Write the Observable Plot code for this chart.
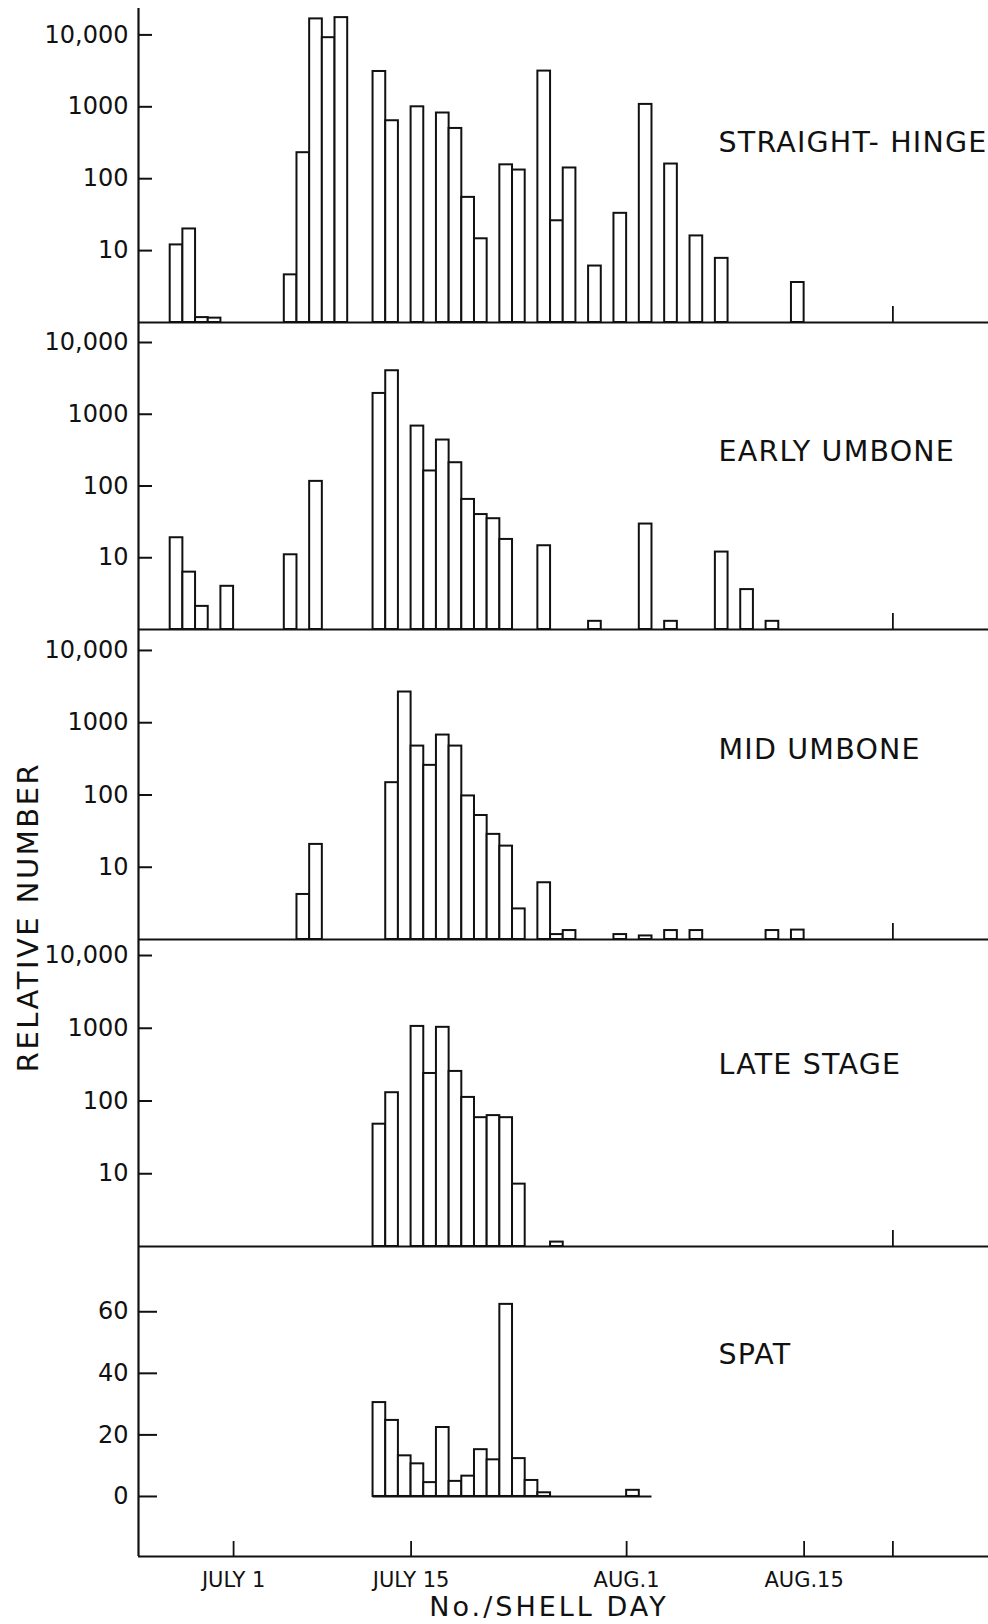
<!DOCTYPE html>
<html>
<head>
<meta charset="utf-8">
<script src="https://cdn.jsdelivr.net/npm/d3@7"></script>
<script src="https://cdn.jsdelivr.net/npm/@observablehq/plot@0.6"></script>
<style>
  body { margin: 0; background: #fff; }
  #chart { position: relative; width: 988px; height: 1624px; background: #fff; font-family: "DejaVu Sans", sans-serif; color: #111; overflow: hidden; }
  #chart svg { position: absolute; left: 0; overflow: visible; background: transparent; }
  .axis-title { position: absolute; white-space: nowrap; line-height: 1; color: #111; }
</style>
</head>
<body>
<div id="chart"></div>
<script>
// Year is not given in the figure; any year works since only month/day are shown.
const YEAR = 1950;

// ---- tick labels ----
const xTickDates = ["07-01", "07-15", "08-01", "08-15"];
const xTickLabels = ["JULY 1", "JULY 15", "AUG.1", "AUG.15"];
const minorTickDate = "08-22";
const logTicks = [10, 100, 1000, 10000];
const logTickLabels = ["10", "100", "1000", "10,000"];
const spatTicks = [0, 20, 40, 60];
const spatTickLabels = ["0", "20", "40", "60"];
const stageNames = ["STRAIGHT- HINGE", "EARLY UMBONE", "MID UMBONE", "LATE STAGE", "SPAT"];
const yAxisTitle = "RELATIVE NUMBER";
const xAxisTitle = "No./SHELL DAY";

// ---- series (relative number per day) ----
const straightHingeDates = ["06-26","06-27","06-28","06-29","07-05","07-06","07-07","07-08","07-09","07-12","07-13","07-15","07-17","07-18","07-19","07-20","07-22","07-23","07-25","07-26","07-27","07-29","07-31","08-02","08-04","08-06","08-08","08-14"];
const straightHingeValues = [12, 20, 1.17, 1.15, 4.6, 230, 16700, 9150, 17400, 3100, 640, 1000, 820, 500, 55, 14.6, 156, 132, 3140, 26, 141, 6.1, 33, 1080, 160, 16, 7.8, 3.6];

const earlyUmboneDates = ["06-26","06-27","06-28","06-30","07-05","07-07","07-12","07-13","07-15","07-16","07-17","07-18","07-19","07-20","07-21","07-22","07-25","07-29","08-02","08-04","08-08","08-10","08-12"];
const earlyUmboneValues = [19, 6.3, 2.1, 4, 11, 116, 1950, 4040, 684, 162, 437, 211, 65, 40, 35, 18, 14.7, 1.3, 29.5, 1.3, 12, 3.6, 1.3];

const midUmboneDates = ["07-06","07-07","07-13","07-14","07-15","07-16","07-17","07-18","07-19","07-20","07-21","07-22","07-23","07-25","07-26","07-27","07-31","08-02","08-04","08-06","08-12","08-14"];
const midUmboneValues = [4.2, 20.7, 148, 2660, 475, 257, 675, 475, 97, 52, 28.5, 19.6, 2.65, 6.1, 1.17, 1.33, 1.17, 1.12, 1.33, 1.33, 1.33, 1.35];

const lateStageDates = ["07-12","07-13","07-15","07-16","07-17","07-18","07-19","07-20","07-21","07-22","07-23","07-26"];
const lateStageValues = [48, 130, 1060, 239, 1030, 255, 112, 59, 63, 59, 7.2, 1.15];

const spatDates = ["07-12","07-13","07-14","07-15","07-16","07-17","07-18","07-19","07-20","07-21","07-22","07-23","07-24","07-25","08-01"];
const spatValues = [30.5, 24.7, 13.2, 10.6, 4.5, 22.4, 4.9, 6.6, 15.2, 11.9, 62.4, 12.3, 5.2, 1.2, 2];
const spatSamplingSpan = ["07-12", "08-03"];

// ---- helpers / layout ----
const day = s => new Date(Date.UTC(YEAR, +s.slice(0, 2) - 1, +s.slice(3, 5)));
const rowsOf = (dates, values) => dates.map((s, i) => ({date: day(s), value: values[i]}));
const INK = "#111";
const FONT = "'DejaVu Sans', sans-serif";
const W = 988, ML = 138, MR = 0;
const plotW = W - ML - MR;
const xDomain = [new Date(Date.UTC(YEAR, 5, 23, 12)), new Date(Date.UTC(YEAR, 7, 29, 13))];

const layout = [
  {top: 0,    mt: 8, mb: 2,  height: 324, yMax: 23300, titleDy: 134},
  {top: 320,  mt: 2, mb: 2,  height: 311, yMax: 19000, titleDy: 129},
  {top: 627,  mt: 2, mb: 2,  height: 314, yMax: 19500, titleDy: 120},
  {top: 937,  mt: 2, mb: 2,  height: 311, yMax: 16600, titleDy: 125},
  {top: 1244, mt: 2, mb: 68, height: 380, yMin: -19.5, yMax: 81.2, titleDy: 108}
];

const chart = document.getElementById("chart");

function titleMark(name, L) {
  return Plot.text([name], {text: d => d, frameAnchor: "top-left", dx: 580, dy: L.titleDy,
    textAnchor: "start", lineAnchor: "middle", fontSize: 28.5, fill: INK});
}

function spaceTitles(svg) {
  svg.querySelectorAll("text").forEach(t => {
    if (stageNames.includes(t.textContent)) t.setAttribute("letter-spacing", "1.2");
  });
}

function logPanel(name, dates, values, L) {
  const rows = rowsOf(dates, values);
  const areaH = L.height - L.mt - L.mb;
  const labelOf = new Map(logTicks.map((t, i) => [t, logTickLabels[i]]));
  const svg = Plot.plot({
    width: W, height: L.height, marginLeft: ML, marginRight: MR, marginTop: L.mt, marginBottom: L.mb,
    style: {fontFamily: FONT, fontSize: "24px", color: INK, background: "transparent", overflow: "visible"},
    x: {type: "utc", domain: xDomain, axis: null},
    y: {type: "log", domain: [1, L.yMax], ticks: logTicks, tickFormat: d => labelOf.get(d) ?? "", tickSize: 0, tickPadding: 10, label: null},
    marks: [
      Plot.rect(rows, {x1: "date", x2: d => d3.utcDay.offset(d.date, 1), y1: 1, y2: "value", fill: "white", stroke: INK, strokeWidth: 2}),
      Plot.ruleY([1], {stroke: INK, strokeWidth: 2}),
      Plot.ruleX([xDomain[0]], {stroke: INK, strokeWidth: 2.2}),
      Plot.ruleY(logTicks, {stroke: INK, strokeWidth: 2, insetRight: plotW - 14}),
      Plot.ruleX([day(minorTickDate)], {stroke: INK, strokeWidth: 1.8, insetTop: areaH - 16}),
      titleMark(name, L)
    ]
  });
  spaceTitles(svg);
  svg.style.top = L.top + "px";
  return svg;
}

function spatPanel(name, dates, values, L) {
  const rows = rowsOf(dates, values);
  const areaH = L.height - L.mt - L.mb;
  const labelOf = new Map(spatTicks.map((t, i) => [t, spatTickLabels[i]]));
  const xTicks = xTickDates.map((s, i) => ({date: day(s), label: xTickLabels[i]}));
  const svg = Plot.plot({
    width: W, height: L.height, marginLeft: ML, marginRight: MR, marginTop: L.mt, marginBottom: L.mb,
    style: {fontFamily: FONT, fontSize: "24px", color: INK, background: "transparent", overflow: "visible"},
    x: {type: "utc", domain: xDomain, axis: null},
    y: {domain: [L.yMin, L.yMax], ticks: spatTicks, tickFormat: d => labelOf.get(d) ?? "", tickSize: 0, tickPadding: 10, label: null},
    marks: [
      Plot.ruleY([0], {x1: day(spatSamplingSpan[0]), x2: day(spatSamplingSpan[1]), stroke: INK, strokeWidth: 2}),
      Plot.rect(rows, {x1: "date", x2: d => d3.utcDay.offset(d.date, 1), y1: 0, y2: "value", fill: "white", stroke: INK, strokeWidth: 2}),
      Plot.ruleY([L.yMin], {stroke: INK, strokeWidth: 2.2}),
      Plot.ruleX([xDomain[0]], {stroke: INK, strokeWidth: 2.2}),
      Plot.ruleY(spatTicks, {stroke: INK, strokeWidth: 2, insetRight: plotW - 19}),
      Plot.ruleX(xTicks.map(d => d.date).concat([day(minorTickDate)]), {stroke: INK, strokeWidth: 1.8, insetTop: areaH - 15}),
      Plot.text(xTicks, {x: "date", text: "label", frameAnchor: "bottom", dy: 24, fontSize: 21, lineAnchor: "middle", fill: INK}),
      titleMark(name, L)
    ]
  });
  spaceTitles(svg);
  svg.style.top = L.top + "px";
  return svg;
}

chart.appendChild(logPanel(stageNames[0], straightHingeDates, straightHingeValues, layout[0]));
chart.appendChild(logPanel(stageNames[1], earlyUmboneDates, earlyUmboneValues, layout[1]));
chart.appendChild(logPanel(stageNames[2], midUmboneDates, midUmboneValues, layout[2]));
chart.appendChild(logPanel(stageNames[3], lateStageDates, lateStageValues, layout[3]));
chart.appendChild(spatPanel(stageNames[4], spatDates, spatValues, layout[4]));

const yTitle = document.createElement("div");
yTitle.className = "axis-title";
yTitle.textContent = yAxisTitle;
Object.assign(yTitle.style, {left: "28px", top: "917px", fontSize: "29px", letterSpacing: "2.5px",
  transform: "translate(-50%, -50%) rotate(-90deg)"});
chart.appendChild(yTitle);

const xTitle = document.createElement("div");
xTitle.className = "axis-title";
xTitle.textContent = xAxisTitle;
Object.assign(xTitle.style, {left: "549px", top: "1606px", fontSize: "27px", letterSpacing: "3px",
  transform: "translate(-50%, -50%)"});
chart.appendChild(xTitle);
</script>
</body>
</html>
